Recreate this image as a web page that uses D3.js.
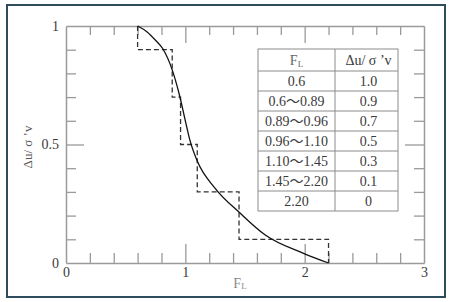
<!DOCTYPE html>
<html>
<head>
<meta charset="utf-8">
<script src="https://cdn.jsdelivr.net/npm/d3@7"></script>
<style>
  body { margin: 0; background: #fff; }
</style>
</head>
<body>
<svg id="fig" width="450" height="302"></svg>
<script>

// table / step values
var tableFL = ['0.6', '0.6\u301c0.89', '0.89\u301c0.96', '0.96\u301c1.10', '1.10\u301c1.45', '1.45\u301c2.20', '2.20'];
var tableDu = ['1.0', '0.9', '0.7', '0.5', '0.3', '0.1', '0'];

var stepFL = [0.6, 0.89, 0.96, 1.10, 1.45, 2.20];
var stepDu = [1.0, 0.9, 0.7, 0.5, 0.3, 0.1, 0];

// smooth curve
var curveFL = [0.6, 0.68, 0.75, 0.81, 0.89, 0.95, 1.0, 1.04, 1.1, 1.25, 1.46, 1.67, 1.99, 2.2];
var curveDu = [1.0, 0.975, 0.94, 0.905, 0.815, 0.71, 0.6, 0.515, 0.43, 0.315, 0.21, 0.118, 0.041, 0];

// ticks
var xMinor = [0.2, 0.4, 0.6, 0.8, 1, 1.2, 1.4, 1.6, 1.8, 2, 2.2, 2.4, 2.6, 2.8];
var xMajor = [1, 2];
var xLabels = [0, 1, 2, 3];
var yMinor = [0.1, 0.2, 0.3, 0.4, 0.5, 0.6, 0.7, 0.8, 0.9];
var yMajor = [0.5];
var yLabels = [0, 0.5, 1];

var FONT = '"Liberation Serif", "DejaVu Serif", "Noto Sans CJK JP", serif';

var svg = d3.select('#fig');

var x = d3.scaleLinear().domain([0, 3]).range([66, 424]);
var y = d3.scaleLinear().domain([0, 1]).range([263, 26]);

var axisCol = '#9a9a9a';
var textCol = '#3a3a3a';

// outer frame
svg.append('rect')
    .attr('x', 7).attr('y', 5).attr('width', 438).attr('height', 292)
    .attr('fill', 'none').attr('stroke', '#2e4c5b').attr('stroke-width', 2);

function style_axis(g, isMajor, majorLen, attr){
    g.select('.domain').attr('stroke', axisCol).attr('stroke-width', 1.5);
    g.selectAll('.tick line').attr('stroke', axisCol).attr('stroke-width', 1.3)
        .filter(function(d){ return isMajor.indexOf(d) >= 0; })
        .attr(attr, majorLen);
    g.selectAll('.tick text').remove();
}

var gb = svg.append('g').attr('transform', 'translate(0,263)')
    .call(d3.axisBottom(x).tickValues(xMinor).tickSize(-10).tickSizeOuter(0).tickFormat(''));
style_axis(gb, xMajor, -19, 'y2');

var gt = svg.append('g').attr('transform', 'translate(0,26)')
    .call(d3.axisTop(x).tickValues(xMinor).tickSize(-9).tickSizeOuter(0).tickFormat(''));
style_axis(gt, xMajor, 17, 'y2');

var gl = svg.append('g').attr('transform', 'translate(66,0)')
    .call(d3.axisLeft(y).tickValues(yMinor).tickSize(-10).tickSizeOuter(0).tickFormat(''));
style_axis(gl, yMajor, 18, 'x2');

var gr = svg.append('g').attr('transform', 'translate(424,0)')
    .call(d3.axisRight(y).tickValues(yMinor).tickSize(-10).tickSizeOuter(0).tickFormat(''));
style_axis(gr, yMajor, -19, 'x2');

// tick labels
var lb = svg.append('g').attr('transform', 'translate(0,263)')
    .call(d3.axisBottom(x).tickValues(xLabels).tickSize(0).tickPadding(4).tickFormat(d3.format('d')));
var ll = svg.append('g').attr('transform', 'translate(66,0)')
    .call(d3.axisLeft(y).tickValues(yLabels).tickSize(0).tickPadding(7).tickFormat(function(d){ return String(d); }));
[lb, ll].forEach(function(g){
    g.select('.domain').remove();
    g.attr('font-family', null).attr('font-size', null);
    g.selectAll('text').attr('font-size', 14).attr('fill', textCol)
        .attr('font-family', FONT);
});

// axis titles
var xt = svg.append('text')
    .attr('x', 240).attr('y', 288)
    .attr('text-anchor', 'middle').attr('font-family', FONT)
    .attr('font-size', 14).attr('fill', '#8a8a8a');
xt.append('tspan').text('F');
xt.append('tspan').attr('font-size', 9).attr('dy', 1).text('L');

svg.append('text')
    .attr('transform', 'translate(27,147) rotate(-90)')
    .attr('text-anchor', 'middle').attr('dy', '0.35em')
    .attr('font-family', FONT)
    .attr('font-size', 13).attr('fill', '#555')
    .text('\u0394u/ \u03c3 \u2019v');

// dashed step line
var stepPts = [[stepFL[0], stepDu[0]]];
for( i = 0; i < stepFL.length; i++ ){
    stepPts.push([stepFL[i], stepDu[i+1]]);
    if( i + 1 < stepFL.length ) stepPts.push([stepFL[i+1], stepDu[i+1]]);
}

var line = d3.line().x(function(d){ return x(d[0]); }).y(function(d){ return y(d[1]); });

svg.append('path')
    .attr('d', line(stepPts))
    .attr('fill', 'none').attr('stroke', '#333')
    .attr('stroke-width', 1.3).attr('stroke-dasharray', '5,3');

// smooth curve
var curvePts = curveFL.map(function(v, i){ return [v, curveDu[i]]; });
svg.append('path')
    .attr('d', line.curve(d3.curveMonotoneX)(curvePts))
    .attr('fill', 'none').attr('stroke', '#111').attr('stroke-width', 1.3);

// table
var tx0 = 258, tx1 = 335, tx2 = 398, ty0 = 49, headH = 22, rowH = 20;
var tBottom = ty0 + headH + rowH * tableFL.length;
var table = svg.append('g').attr('font-family', FONT);

table.append('rect')
    .attr('x', tx0).attr('y', ty0).attr('width', tx2 - tx0).attr('height', tBottom - ty0)
    .attr('fill', '#fff').attr('stroke', '#8c8c8c').attr('stroke-width', 1);
table.append('line')
    .attr('x1', tx1).attr('x2', tx1).attr('y1', ty0).attr('y2', tBottom)
    .attr('stroke', '#8c8c8c');
table.selectAll('line.row').data(tableFL).enter().append('line')
    .attr('class', 'row')
    .attr('x1', tx0).attr('x2', tx2)
    .attr('y1', function(d, i){ return ty0 + headH + rowH * i; })
    .attr('y2', function(d, i){ return ty0 + headH + rowH * i; })
    .attr('stroke', '#8c8c8c');

var h1 = table.append('text')
    .attr('x', (tx0 + tx1) / 2).attr('y', ty0 + headH / 2).attr('dy', '0.35em')
    .attr('text-anchor', 'middle').attr('font-size', 14).attr('fill', '#666');
h1.append('tspan').text('F');
h1.append('tspan').attr('font-size', 9).attr('dy', 2).text('L');

table.append('text')
    .attr('x', (tx1 + tx2) / 2 + 2).attr('y', ty0 + headH / 2).attr('dy', '0.35em')
    .attr('text-anchor', 'middle').attr('font-size', 14).attr('fill', textCol)
    .text('\u0394u/ \u03c3 \u2019v');

table.selectAll('text.fl').data(tableFL).enter().append('text')
    .attr('class', 'fl')
    .attr('x', (tx0 + tx1) / 2)
    .attr('y', function(d, i){ return ty0 + headH + rowH * i + rowH / 2; })
    .attr('dy', '0.35em').attr('text-anchor', 'middle')
    .attr('font-size', 14).attr('fill', textCol)
    .text(function(d){ return d; });

table.selectAll('text.du').data(tableDu).enter().append('text')
    .attr('class', 'du')
    .attr('x', (tx1 + tx2) / 2 + 2)
    .attr('y', function(d, i){ return ty0 + headH + rowH * i + rowH / 2; })
    .attr('dy', '0.35em').attr('text-anchor', 'middle')
    .attr('font-size', 14).attr('fill', textCol)
    .text(function(d){ return d; });

</script>
</body>
</html>
